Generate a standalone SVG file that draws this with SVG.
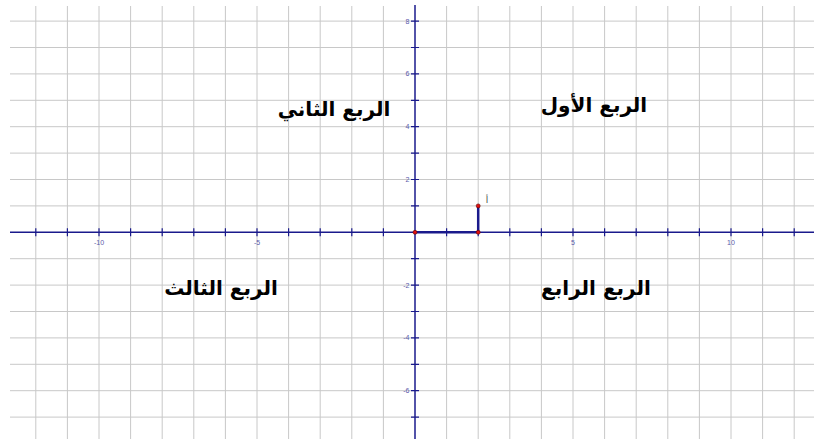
<svg xmlns="http://www.w3.org/2000/svg" width="814" height="441" viewBox="0 0 814 441">
<style>
.grid line{stroke:#c8c8c8;stroke-width:1}
.axis{stroke:#1a1a8c;stroke-width:1.5}
.tick{stroke:#1a1a8c;stroke-width:1.2}
.num{font-family:"Liberation Sans",Arial,sans-serif;font-size:7px;fill:#5a5aaa}
.q{font-family:"DejaVu Sans","Liberation Sans",sans-serif;font-size:20px;font-weight:bold;fill:#000}
.seg{stroke:#1a1a8c;stroke-width:2.5;fill:none}
.pt{fill:#e01010;stroke:#600000;stroke-width:0.6}
</style>
<rect width="814" height="441" fill="#fff"/>
<g id="grid" class="grid">
<line x1="35.8" y1="6" x2="35.8" y2="439"/><line x1="67.4" y1="6" x2="67.4" y2="439"/><line x1="99" y1="6" x2="99" y2="439"/><line x1="130.6" y1="6" x2="130.6" y2="439"/><line x1="162.2" y1="6" x2="162.2" y2="439"/><line x1="193.8" y1="6" x2="193.8" y2="439"/><line x1="225.4" y1="6" x2="225.4" y2="439"/><line x1="257" y1="6" x2="257" y2="439"/><line x1="288.6" y1="6" x2="288.6" y2="439"/><line x1="320.2" y1="6" x2="320.2" y2="439"/><line x1="351.8" y1="6" x2="351.8" y2="439"/><line x1="383.4" y1="6" x2="383.4" y2="439"/><line x1="446.6" y1="6" x2="446.6" y2="439"/><line x1="478.2" y1="6" x2="478.2" y2="439"/><line x1="509.8" y1="6" x2="509.8" y2="439"/><line x1="541.4" y1="6" x2="541.4" y2="439"/><line x1="573" y1="6" x2="573" y2="439"/><line x1="604.6" y1="6" x2="604.6" y2="439"/><line x1="636.2" y1="6" x2="636.2" y2="439"/><line x1="667.8" y1="6" x2="667.8" y2="439"/><line x1="699.4" y1="6" x2="699.4" y2="439"/><line x1="731" y1="6" x2="731" y2="439"/><line x1="762.6" y1="6" x2="762.6" y2="439"/><line x1="794.2" y1="6" x2="794.2" y2="439"/>
<line x1="10" y1="21.1" x2="814" y2="21.1"/><line x1="10" y1="47.5" x2="814" y2="47.5"/><line x1="10" y1="73.9" x2="814" y2="73.9"/><line x1="10" y1="100.3" x2="814" y2="100.3"/><line x1="10" y1="126.7" x2="814" y2="126.7"/><line x1="10" y1="153.1" x2="814" y2="153.1"/><line x1="10" y1="179.5" x2="814" y2="179.5"/><line x1="10" y1="205.9" x2="814" y2="205.9"/><line x1="10" y1="258.7" x2="814" y2="258.7"/><line x1="10" y1="285.1" x2="814" y2="285.1"/><line x1="10" y1="311.5" x2="814" y2="311.5"/><line x1="10" y1="337.9" x2="814" y2="337.9"/><line x1="10" y1="364.3" x2="814" y2="364.3"/><line x1="10" y1="390.7" x2="814" y2="390.7"/><line x1="10" y1="417.1" x2="814" y2="417.1"/>
</g>
<g id="axes">
<line class="axis" x1="10" y1="232.3" x2="814" y2="232.3"/>
<line class="axis" x1="415" y1="5" x2="415" y2="439"/>
<path class="tick" d="M35.8 228.3v8M67.4 228.3v8M99 228.3v8M130.6 228.3v8M162.2 228.3v8M193.8 228.3v8M225.4 228.3v8M257 228.3v8M288.6 228.3v8M320.2 228.3v8M351.8 228.3v8M383.4 228.3v8M446.6 228.3v8M478.2 228.3v8M509.8 228.3v8M541.4 228.3v8M573 228.3v8M604.6 228.3v8M636.2 228.3v8M667.8 228.3v8M699.4 228.3v8M731 228.3v8M762.6 228.3v8M794.2 228.3v8"/>
<path class="tick" d="M411 21.1h8M411 47.5h8M411 73.9h8M411 100.3h8M411 126.7h8M411 153.1h8M411 179.5h8M411 205.9h8M411 258.7h8M411 285.1h8M411 311.5h8M411 337.9h8M411 364.3h8M411 390.7h8M411 417.1h8"/>
<g class="num" text-anchor="end">
<text x="409.5" y="23.6">8</text><text x="409.5" y="76.4">6</text><text x="409.5" y="129.2">4</text><text x="409.5" y="182">2</text><text x="409.5" y="287.6">-2</text><text x="409.5" y="340.4">-4</text><text x="409.5" y="393.2">-6</text>
</g>
<g class="num" text-anchor="middle">
<text x="99" y="245">-10</text><text x="257" y="245">-5</text><text x="573" y="245">5</text><text x="731" y="245">10</text>
</g>
</g>
<g id="connectors">
<path class="seg" d="M415 232.3H478.2V205.9"/>
</g>
<g id="points">
<circle class="pt" cx="415" cy="232.3" r="2"/>
<circle class="pt" cx="478.2" cy="232.3" r="2"/>
<circle class="pt" cx="478.2" cy="205.9" r="2"/>
<text x="487" y="203" font-family="DejaVu Sans,sans-serif" font-size="9" fill="#444" text-anchor="middle">أ</text>
</g>
<g id="q1"><text class="q" x="594" y="112" text-anchor="middle" direction="rtl">الربع الأول</text></g>
<g id="q2"><text class="q" x="334" y="116" text-anchor="middle" direction="rtl">الربع الثاني</text></g>
<g id="q3"><text class="q" x="221" y="295" text-anchor="middle" direction="rtl">الربع الثالث</text></g>
<g id="q4"><text class="q" x="596" y="295" text-anchor="middle" direction="rtl">الربع الرابع</text></g>
</svg>
